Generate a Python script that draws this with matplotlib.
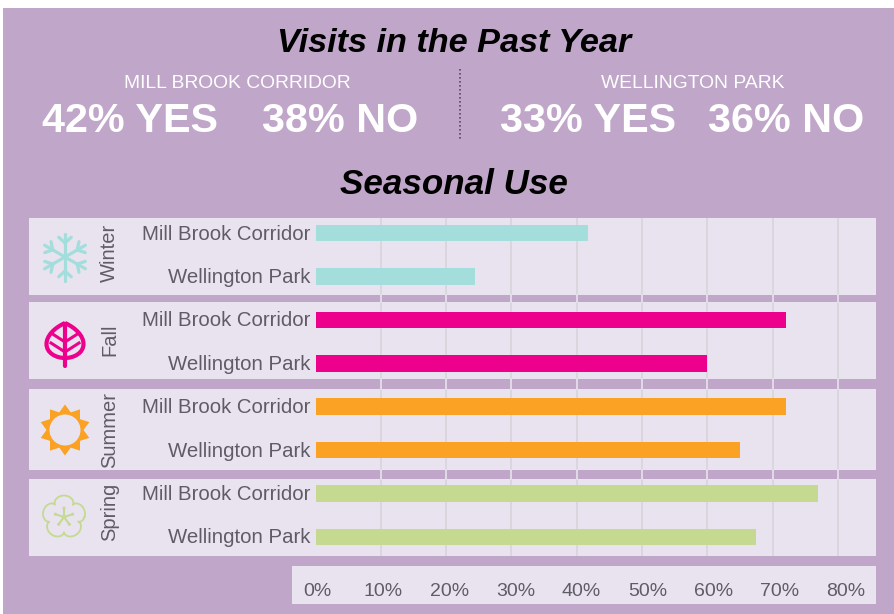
import numpy as np
import matplotlib
matplotlib.use("Agg")
import matplotlib.pyplot as plt
from matplotlib.patches import Rectangle, Circle, Polygon, PathPatch
from matplotlib.path import Path
from matplotlib.transforms import ScaledTranslation

plt.rcParams["font.family"] = ["Liberation Sans", "DejaVu Sans"]

# Survey data
seasons = ["Winter", "Fall", "Summer", "Spring"]
parks = ["Mill Brook Corridor", "Wellington Park"]
mill_brook = [41.7, 72, 72, 77]
wellington = [24.5, 60, 65, 67.5]
season_colors = ["#A3DEDC", "#EC008C", "#FBA123", "#C5DA90"]
tick_values = [0, 10, 20, 30, 40, 50, 60, 70, 80]
tick_labels = [f"{v}%" for v in tick_values]
visits = [("MILL BROOK CORRIDOR", 42, 38), ("WELLINGTON PARK", 33, 36)]

PURPLE = "#C0A6C9"
PANEL = "#E8E3EE"
GRID_DARK = "#D8D5DC"
GRID_LIGHT = "#E4DEEA"
LABEL = "#605C66"
W, H = 894, 614

fig = plt.figure(figsize=(W / 100, H / 100), dpi=100, facecolor="white")


def px_axes(left, top, right, bottom, **kw):
    """Axes placed by pixel edges, measured from the top-left of the figure."""
    return fig.add_axes([left / W, 1 - bottom / H, (right - left) / W, (bottom - top) / H], **kw)


# Backdrop layer works in figure pixels, y pointing down
bg = px_axes(0, 0, W, H, zorder=0)
bg.set_xlim(0, W)
bg.set_ylim(H, 0)
bg.axis("off")
bg.add_patch(Rectangle((3, 8), W - 3, H - 8, fc=PURPLE, ec="none"))

bands = [(218, 294.5), (302, 379), (389, 470), (479, 556)]
for top, bottom in bands:
    bg.add_patch(Rectangle((29, top), 847, bottom - top, fc=PANEL, ec="none"))
bg.add_patch(Rectangle((292, 566), 584, 38, fc=PANEL, ec="none"))

# Headline block
bg.text(454.5, 43.5, "Visits in the Past Year", ha="center", va="center",
        fontsize=24.7, fontweight="bold", fontstyle="italic", color="black")
bg.text(453.5, 184.5, "Seasonal Use", ha="center", va="center",
        fontsize=25.2, fontweight="bold", fontstyle="italic", color="black")

name_x = [237.5, 693]
yes_x = [130.5, 588.5]
no_x = [340.5, 786]
for (name, yes, no), nx, yx, ox in zip(visits, name_x, yes_x, no_x):
    bg.text(nx, 84, name, ha="center", va="center", fontsize=13.9, color="white")
    bg.text(yx, 120.5, f"{yes}% YES", ha="center", va="center", fontsize=29.8,
            fontweight="bold", color="white")
    bg.text(ox, 120.5, f"{no}% NO", ha="center", va="center", fontsize=29.8,
            fontweight="bold", color="white")
bg.plot([460, 460], [69, 141], color="#5A4A60", lw=1.2, ls=(0, (1, 1.4)))

# Season names, rotated beside the icons
season_y = [253, 340, 430, 512]
for name, y in zip(seasons, season_y):
    bg.text(109.5, y, name, rotation=90, ha="center", va="center", fontsize=14.5, color=LABEL)


def snowflake(ax, cx, cy, r, color):
    for a in np.deg2rad(np.arange(0, 360, 60) + 90):
        d = np.array([np.cos(a), np.sin(a)])
        c = np.array([cx, cy])
        ax.plot(*zip(c, c + r * d), color=color, lw=2.3, solid_capstyle="round")
        base = c + 0.6 * r * d
        for s in (-1, 1):
            b = a + s * np.deg2rad(48)
            tip = base + 0.36 * r * np.array([np.cos(b), np.sin(b)])
            ax.plot(*zip(base, tip), color=color, lw=2.3, solid_capstyle="round")


def leaf(ax, cx, top, color):
    verts = [(cx, top), (cx + 11, top + 5), (cx + 18.5, top + 13), (cx + 18.5, top + 21),
             (cx + 18.5, top + 30), (cx + 9, top + 35), (cx, top + 35),
             (cx - 9, top + 35), (cx - 18.5, top + 30), (cx - 18.5, top + 21),
             (cx - 18.5, top + 13), (cx - 11, top + 5), (cx, top)]
    codes = [Path.MOVETO] + [Path.CURVE4] * 12
    ax.add_patch(PathPatch(Path(verts, codes), fc="none", ec=color, lw=3.0))
    ax.plot([cx, cx], [top + 1, top + 43], color=color, lw=3.0, solid_capstyle="round")
    for dy in (13, 23):
        for s in (-1, 1):
            ax.plot([cx, cx + s * 14], [top + dy + 6, top + dy - 3], color=color, lw=2.2)


def sun(ax, cx, cy, color):
    n = 10
    angles = np.linspace(0, 2 * np.pi, 2 * n, endpoint=False) + np.pi / 2
    radii = np.where(np.arange(2 * n) % 2 == 0, 25.5, 18.5)
    pts = np.c_[cx + radii * np.cos(angles), cy + radii * np.sin(angles)]
    ax.add_patch(Polygon(pts, closed=True, fc=color, ec="none"))
    ax.add_patch(Circle((cx, cy), 15.5, fc=PANEL, ec="none"))


def blossom(ax, cx, cy, color):
    th = np.linspace(0, 2 * np.pi, 600)
    r = 14.5 + 7 * np.abs(np.cos(2.5 * (th + np.pi / 2))) ** 0.45
    ax.plot(cx + r * np.cos(th), cy + r * np.sin(th), color=color, lw=1.3)
    for a in np.deg2rad(np.arange(0, 360, 72) - 90):
        d = np.array([np.cos(a), np.sin(a)])
        ax.plot([cx, cx + 9 * d[0]], [cy, cy + 9 * d[1]], color=color, lw=1.5)
        ax.add_patch(Circle((cx + 9 * d[0], cy + 9 * d[1]), 1.5, fc=color, ec="none"))


snowflake(bg, 65, 257, 23.5, season_colors[0])
leaf(bg, 65, 323, season_colors[1])
sun(bg, 65, 430, season_colors[2])
blossom(bg, 64, 517, season_colors[3])

# Bar chart, with 6.53 px per percentage point from the zero line
PLOT_L, PLOT_R, PLOT_T, PLOT_B = 315.5, 876, 218, 556
ax = px_axes(PLOT_L, PLOT_T, PLOT_R, PLOT_B, zorder=2)
ax.patch.set_alpha(0)
ax.set_xlim(0, (PLOT_R - PLOT_L) / 6.53)
ax.set_ylim(7.44, -0.346)
for s in ax.spines.values():
    s.set_visible(False)

values = [v for pair in zip(mill_brook, wellington) for v in pair]
colors = [c for c in season_colors for _ in parks]
labels = [p for _ in seasons for p in parks]
ypos = np.arange(len(values))


def frac(py):
    return 1 - (py - PLOT_T) / (PLOT_B - PLOT_T)


for v in tick_values[1:]:
    for top, bottom in bands:
        ax.axvline(v, frac(bottom), frac(top), color=GRID_DARK, lw=1.3, zorder=1)
    for (_, a), (b, _) in zip(bands[:-1], bands[1:]):
        ax.axvline(v, frac(b), frac(a), color=GRID_LIGHT, lw=1.3, zorder=1)

ax.barh(ypos, values, height=0.38, color=colors, zorder=2)
ax.set_yticks(ypos, labels, fontsize=14.7, color=LABEL)
ax.set_xticks([])
ax.tick_params(axis="y", length=0, pad=4)
nudge = ScaledTranslation(0, 1 / 100, fig.dpi_scale_trans)
for lab in ax.get_yticklabels():
    lab.set_transform(lab.get_transform() + nudge)

# Percentage scale sits in its own strip beneath the bars
axis_strip = px_axes(292, 566, 876, 604, zorder=2)
axis_strip.patch.set_alpha(0)
axis_strip.set_xlim((292 - 317.5) / 6.6, (876 - 317.5) / 6.6)
axis_strip.set_ylim(0, 1)
axis_strip.set_yticks([])
axis_strip.set_xticks(tick_values, tick_labels, fontsize=14, color=LABEL)
axis_strip.tick_params(axis="x", length=0, direction="in", pad=-15)
for s in axis_strip.spines.values():
    s.set_visible(False)

fig.savefig("out.png", dpi=100, facecolor="white")
